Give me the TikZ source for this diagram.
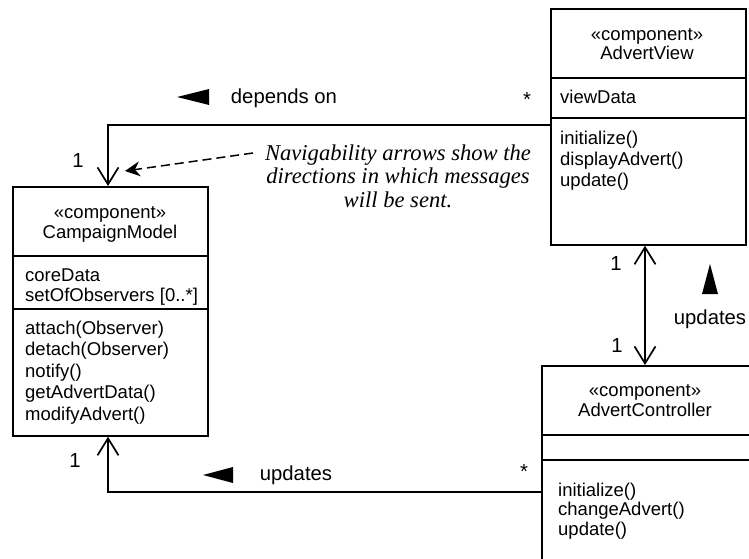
\documentclass[tikz,border=0pt]{standalone}
\usepackage{fontspec}
\setmainfont{Liberation Sans}
\newfontfamily\notefont{Liberation Serif}
\usetikzlibrary{arrows.meta}
\newcommand{\boxfont}{\fontsize{18.5}{21.5}\selectfont}
\newcommand{\lblfont}{\fontsize{20.3}{23}\selectfont}
\begin{document}
\begin{tikzpicture}[x=1pt,y=-1pt,
  classbox/.style={draw, line width=1.7pt, inner sep=0pt, anchor=north west},
  divider/.style={line width=1.7pt},
  conn/.style={line width=1.7pt},
  nav/.style={-{Straight Barb[length=17pt,width=21pt]}},
  both/.style={{Straight Barb[length=17pt,width=21pt]}-{Straight Barb[length=17pt,width=21pt]}},
  txl/.style={anchor=base west, inner sep=0pt, font=\boxfont},
  txc/.style={anchor=base, inner sep=0pt, font=\boxfont},
  lbl/.style={anchor=base, inner sep=0pt, font=\lblfont},
  dirtri/.style={fill=black}
]
\useasboundingbox (0,0) rectangle (749,559);
\clip (0,0) rectangle (749,559);

% ---------- AdvertView ----------
\node[classbox, minimum width=195pt, minimum height=236pt] (av) at (550,8) {};
\draw[divider] (av.west |- 0,78) -- (av.east |- 0,78);
\draw[divider] (av.west |- 0,118) -- (av.east |- 0,118);
\node[txc] (avs) at (647,41) {«component»};
\node[txc] (avn) at (647,60) {AdvertView};
\node[txl] (ava1) at (560,103) {viewData};
\node[txl] (avm1) at (560,144) {initialize()};
\node[txl] (avm2) at (560,165) {displayAdvert()};
\node[txl] (avm3) at (560,186) {update()};

% ---------- CampaignModel ----------
\node[classbox, minimum width=195pt, minimum height=249pt] (cm) at (12,186) {};
\draw[divider] (cm.west |- 0,256) -- (cm.east |- 0,256);
\draw[divider] (cm.west |- 0,309) -- (cm.east |- 0,309);
\node[txc] (cms) at (110,218) {«component»};
\node[txc] (cmn) at (110,238) {CampaignModel};
\node[txl] (cma1) at (25,281) {coreData};
\node[txl] (cma2) at (25,301) {setOfObservers [0..*]};
\node[txl] (cmm1) at (25,334) {attach(Observer)};
\node[txl] (cmm2) at (25,355.5) {detach(Observer)};
\node[txl] (cmm3) at (25,377) {notify()};
\node[txl] (cmm4) at (25,398.5) {getAdvertData()};
\node[txl] (cmm5) at (25,420) {modifyAdvert()};

% ---------- AdvertController ----------
\node[classbox, minimum width=211pt, minimum height=205pt] (ac) at (541,365) {};
\draw[divider] (ac.west |- 0,435) -- (ac.east |- 0,435);
\draw[divider] (ac.west |- 0,460) -- (ac.east |- 0,460);
\node[txc] (acs) at (645,396) {«component»};
\node[txc] (acn) at (645,416) {AdvertController};
\node[txl] (acm1) at (558,496) {initialize()};
\node[txl] (acm2) at (558,515.5) {changeAdvert()};
\node[txl] (acm3) at (558,535) {update()};

% ---------- depends on ----------
\coordinate (d1) at (108,125);
\draw[conn, nav] (av.west |- d1) -- (d1) -- (d1 |- cm.north);
\fill[dirtri] (177,97) -- (209,89) -- (209,105) -- cycle;
\node[lbl] (dep) at (284,103) {depends on};
\node[lbl] (dstar) at (527,107) {*};
\node[lbl] (done) at (78,167) {1};

% ---------- note ----------
\node[anchor=north, inner sep=0pt, align=center,
      font=\notefont\itshape\fontsize{22.6}{23.5}\selectfont] (note) at (398,144.5)
  {Navigability arrows show the\\directions in which messages\\will be sent.};
\coordinate (ns) at (253,153);
\coordinate (ne) at (125,171);
\draw[line width=1.5pt, dash pattern=on 9pt off 5pt,
      -{Stealth[length=15pt,width=15pt,inset=5pt]}] (ns) -- (ne);

% ---------- updates (vertical) ----------
\coordinate (v1) at (645,300);
\draw[conn, both] (v1 |- av.south) -- (v1 |- ac.north);
\fill[dirtri] (710,264) -- (702,294) -- (718,294) -- cycle;
\node[lbl] (upv) at (710,324) {updates};
\node[lbl] (vone1) at (616,270) {1};
\node[lbl] (vone2) at (617,352) {1};

% ---------- updates (bottom) ----------
\coordinate (d2) at (108,492);
\draw[conn, nav] (ac.west |- d2) -- (d2) -- (d2 |- cm.south);
\fill[dirtri] (203,475) -- (233,467) -- (233,483) -- cycle;
\node[lbl] (upb) at (296,480) {updates};
\node[lbl] (bstar) at (524,478) {*};
\node[lbl] (bone) at (75,467) {1};
\end{tikzpicture}
\end{document}
